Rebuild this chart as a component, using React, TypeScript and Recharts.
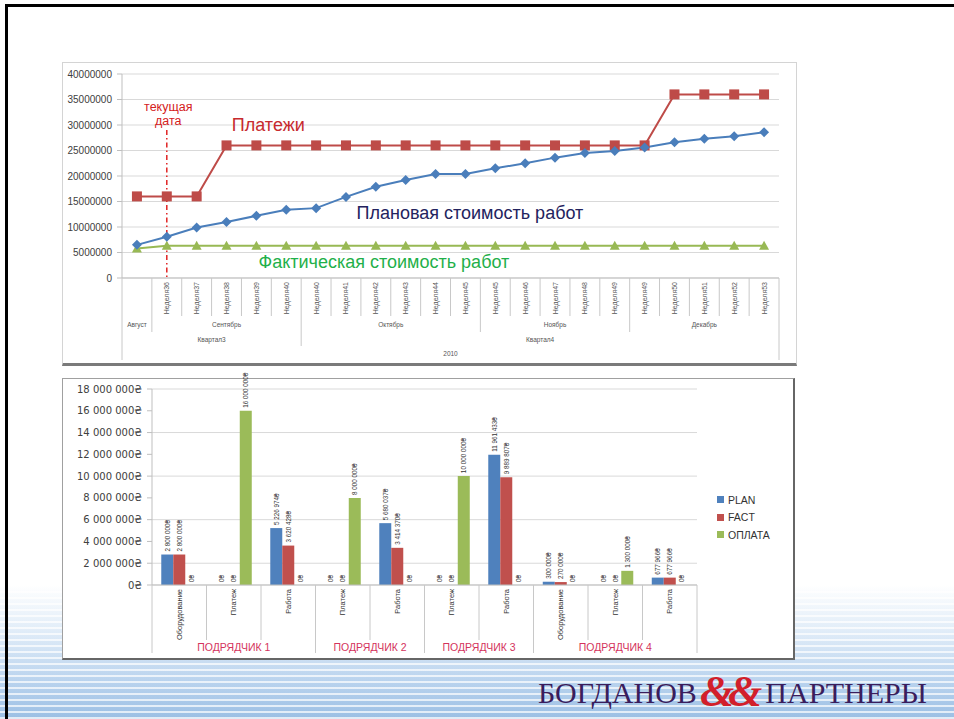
import React from 'react';
import {
  LineChart, Line, BarChart, Bar, XAxis, YAxis, CartesianGrid,
  ReferenceLine, ReferenceDot, Legend, LabelList,
} from 'recharts';

// ---------- top chart: payments vs planned / actual cost by week ----------
const weekLabels = [
  '', 'Неделя36', 'Неделя37', 'Неделя38', 'Неделя39', 'Неделя40',
  'Неделя40', 'Неделя41', 'Неделя42', 'Неделя43', 'Неделя44', 'Неделя45',
  'Неделя45', 'Неделя46', 'Неделя47', 'Неделя48', 'Неделя49',
  'Неделя49', 'Неделя50', 'Неделя51', 'Неделя52', 'Неделя53',
];
const paymentsValues = [
  16000000, 16000000, 16000000, 26000000, 26000000, 26000000, 26000000, 26000000,
  26000000, 26000000, 26000000, 26000000, 26000000, 26000000, 26000000, 26000000,
  26000000, 26000000, 36000000, 36000000, 36000000, 36000000,
];
const plannedValues = [
  6500000, 8100000, 9900000, 11000000, 12200000, 13400000, 13700000, 15900000,
  17900000, 19200000, 20400000, 20400000, 21500000, 22500000, 23600000, 24500000,
  24900000, 25600000, 26600000, 27300000, 27800000, 28600000,
];
const actualValues = [
  5800000, 6300000, 6300000, 6300000, 6300000, 6300000, 6300000, 6300000,
  6300000, 6300000, 6300000, 6300000, 6300000, 6300000, 6300000, 6300000,
  6300000, 6300000, 6300000, 6300000, 6300000, 6300000,
];
const monthSpans = [
  { label: 'Август', from: 0, to: 0 },
  { label: 'Сентябрь', from: 1, to: 5 },
  { label: 'Октябрь', from: 6, to: 11 },
  { label: 'Ноябрь', from: 12, to: 16 },
  { label: 'Декабрь', from: 17, to: 21 },
];
const quarterSpans = [
  { label: 'Квартал3', from: 0, to: 5 },
  { label: 'Квартал4', from: 6, to: 21 },
];
const yearSpans = [{ label: '2010', from: 0, to: 21 }];
const topTicks = [0, 5000000, 10000000, 15000000, 20000000, 25000000, 30000000, 35000000, 40000000];

// ---------- bottom chart: plan / fact / payment by contractor ----------
const categories = [
  'Оборудование', 'Платеж', 'Работа', 'Платеж', 'Работа',
  'Платеж', 'Работа', 'Оборудование', 'Платеж', 'Работа',
];
const planValues = [2800000, 0, 5226974, 0, 5680037, 0, 11961433, 300000, 0, 677966];
const factValues = [2800000, 0, 3620428, 0, 3414370, 0, 9889807, 270000, 0, 677966];
const paidValues = [0, 16000000, 0, 8000000, 0, 10000000, 0, 0, 1300000, 0];
const contractorSpans = [
  { label: 'ПОДРЯДЧИК 1', from: 0, to: 2 },
  { label: 'ПОДРЯДЧИК 2', from: 3, to: 4 },
  { label: 'ПОДРЯДЧИК 3', from: 5, to: 6 },
  { label: 'ПОДРЯДЧИК 4', from: 7, to: 9 },
];
const seriesNames = ['PLAN', 'FACT', 'ОПЛАТА'];
const bottomTicks = [0, 2000000, 4000000, 6000000, 8000000, 10000000, 12000000, 14000000, 16000000, 18000000];

const topData = weekLabels.map((w, i) => ({
  i, week: w, payments: paymentsValues[i], planned: plannedValues[i], actual: actualValues[i],
}));
const bottomData = categories.map((c, i) => ({
  i, name: c, plan: planValues[i], fact: factValues[i], paid: paidValues[i],
}));

const money = (v: number) => String(v).replace(/\B(?=(\d{3})+(?!\d))/g, ' ') + '₴';

type Span = { label: string; from: number; to: number };

// ticks for a multi-level axis row: span centers carry labels, span edges draw separators
function rowTicks(spans: Span[]) {
  const labels = new Map<number, string>();
  const edges = new Set<number>();
  spans.forEach((s) => {
    labels.set((s.from + s.to) / 2, s.label);
    edges.add(s.from - 0.5);
    edges.add(s.to + 0.5);
  });
  const ticks = [...edges, ...labels.keys()].sort((a, b) => a - b);
  return { labels, ticks };
}

const makeRowTick = (labels: Map<number, string>, h: number, rotated: boolean, fontSize: number, color: string, weight = 'normal') =>
  (props: any) => {
    const { x, y, payload } = props;
    const label = labels.get(payload.value);
    if (label === undefined) {
      return <line x1={x} x2={x} y1={y} y2={y + h} stroke="#c8c8c8" strokeWidth={1} />;
    }
    if (rotated) {
      return (
        <text x={x} y={y + 4} transform={`rotate(-90 ${x} ${y + 4})`} textAnchor="end"
          dominantBaseline="central" fontSize={fontSize} fill={color}>{label}</text>
      );
    }
    return (
      <text x={x} y={y + h / 2} textAnchor="middle" dominantBaseline="central"
        fontSize={fontSize} fill={color} fontWeight={weight}>{label}</text>
    );
  };

const weekRow = rowTicks(weekLabels.map((w, i) => ({ label: w, from: i, to: i })));
const monthRow = rowTicks(monthSpans);
const quarterRow = rowTicks(quarterSpans);
const yearRow = rowTicks(yearSpans);
const catRow = rowTicks(categories.map((c, i) => ({ label: c, from: i, to: i })));
const groupRow = rowTicks(contractorSpans);

const Diamond = (p: any) => {
  const { cx, cy } = p;
  if (cx == null || cy == null) return <g key={p.index} />;
  return <polygon key={p.index} points={`${cx},${cy - 5} ${cx + 5},${cy} ${cx},${cy + 5} ${cx - 5},${cy}`} fill="#4a7ebb" />;
};
const Square = (p: any) => {
  const { cx, cy } = p;
  if (cx == null || cy == null) return <g key={p.index} />;
  return <rect key={p.index} x={cx - 5} y={cy - 5} width={10} height={10} fill="#be4b48" />;
};
const Triangle = (p: any) => {
  const { cx, cy } = p;
  if (cx == null || cy == null) return <g key={p.index} />;
  return <polygon key={p.index} points={`${cx},${cy - 5} ${cx + 5},${cy + 4} ${cx - 5},${cy + 4}`} fill="#98b954" />;
};

const BarValueLabel = (p: any) => {
  const { x, y, width, height, value } = p;
  const cx = x + width / 2;
  const cy = Math.min(y, y + height) - 3;
  return (
    <text x={cx} y={cy} transform={`rotate(-90 ${cx} ${cy})`} textAnchor="start"
      dominantBaseline="central" fontSize={6.3} fill="#333">{money(Number(value) || 0)}</text>
  );
};

const renderLegend = (props: any) => {
  const items = [...(props.payload || [])].sort(
    (a: any, b: any) => seriesNames.indexOf(a.value) - seriesNames.indexOf(b.value));
  return (
    <div style={{ fontFamily: '"Liberation Sans", Arial, sans-serif', fontSize: 10.5, color: '#333' }}>
      {items.map((e: any) => (
        <div key={e.value} style={{ height: 17.5, display: 'flex', alignItems: 'center' }}>
          <span style={{ width: 7, height: 7, background: e.color, marginRight: 4, display: 'inline-block' }} />
          {e.value}
        </div>
      ))}
    </div>
  );
};

const grid = '#d9d9d9';
const axisGray = '#bfbfbf';

export default function App() {
  return (
    <div style={{ position: 'absolute', left: 0, top: 0, width: 954, height: 719, background: '#fff', overflow: 'hidden', fontFamily: '"Liberation Sans", Arial, sans-serif' }}>
      <style>{'.recharts-surface{overflow:visible}'}</style>
      {/* slide decoration */}
      <div style={{
        position: 'absolute', left: 0, top: 585, width: 954, height: 134,
        background: 'repeating-linear-gradient(to bottom, rgba(255,255,255,0.7) 0px, rgba(255,255,255,0.7) 2px, rgba(255,255,255,0) 2px, rgba(255,255,255,0) 6px), linear-gradient(to bottom, #ffffff 0%, #e0ecf8 35%, #b6d1ed 75%, #9cbfe4 100%)',
      }} />
      <div style={{ position: 'absolute', left: 5, top: 4, right: -10, bottom: -10, borderTop: '3px solid #000', borderLeft: '3px solid #000' }} />

      {/* top panel */}
      <div style={{ position: 'absolute', left: 62, top: 62, width: 733, height: 300, background: '#fff', border: '1px solid #d4d4d4', borderBottom: '3px solid #7a7a7a' }} />
      <div style={{ position: 'absolute', left: 62, top: 62 }}>
        <LineChart width={735} height={303} data={topData} margin={{ top: 12, right: 18, bottom: 5, left: 0 }}>
          <CartesianGrid vertical={false} stroke={grid} xAxisId="a_w" />
          <YAxis domain={[0, 40000000]} ticks={topTicks} width={60} tickSize={5} tickMargin={5}
            stroke={axisGray} tick={{ fontSize: 10, fill: '#404040' }} />
          <XAxis xAxisId="a_w" type="number" dataKey="i" domain={[-0.5, 21.5]} allowDataOverflow
            ticks={weekRow.ticks} interval={0} height={38} tickLine={false} tickSize={0} tickMargin={0}
            stroke={axisGray} tick={makeRowTick(weekRow.labels, 38, true, 7, '#555')} />
          <XAxis xAxisId="b_m" type="number" dataKey="i" domain={[-0.5, 21.5]} allowDataOverflow
            ticks={monthRow.ticks} interval={0} height={16} axisLine={false} tickLine={false} tickSize={0} tickMargin={0}
            tick={makeRowTick(monthRow.labels, 16, false, 6.5, '#555')} />
          <XAxis xAxisId="c_q" type="number" dataKey="i" domain={[-0.5, 21.5]} allowDataOverflow
            ticks={quarterRow.ticks} interval={0} height={14} axisLine={false} tickLine={false} tickSize={0} tickMargin={0}
            tick={makeRowTick(quarterRow.labels, 14, false, 6.5, '#555')} />
          <XAxis xAxisId="d_y" type="number" dataKey="i" domain={[-0.5, 21.5]} allowDataOverflow
            ticks={yearRow.ticks} interval={0} height={14} axisLine={false} tickLine={false} tickSize={0} tickMargin={0}
            tick={makeRowTick(yearRow.labels, 14, false, 6.5, '#555')} />
          <Line xAxisId="a_w" dataKey="payments" stroke="#be4b48" strokeWidth={2} dot={Square} activeDot={false} isAnimationActive={false} />
          <Line xAxisId="a_w" dataKey="actual" stroke="#98b954" strokeWidth={2} dot={Triangle} activeDot={false} isAnimationActive={false} />
          <Line xAxisId="a_w" dataKey="planned" stroke="#4a7ebb" strokeWidth={2} dot={Diamond} activeDot={false} isAnimationActive={false} />
          <ReferenceLine xAxisId="a_w" segment={[{ x: 1, y: 29000000 }, { x: 1, y: 0 }]}
            stroke="#e02424" strokeWidth={1.5} strokeDasharray="5 3 1.5 3" />
          <ReferenceDot xAxisId="a_w" x={1.05} y={33700000} r={0} fillOpacity={0} stroke="none"
            label={{ value: 'текущая', position: 'center', fill: '#d42020', fontSize: 12.5 }} />
          <ReferenceDot xAxisId="a_w" x={1.05} y={30800000} r={0} fillOpacity={0} stroke="none"
            label={{ value: 'дата', position: 'center', fill: '#d42020', fontSize: 12.5 }} />
          <ReferenceDot xAxisId="a_w" x={4.4} y={30000000} r={0} fillOpacity={0} stroke="none"
            label={{ value: 'Платежи', position: 'center', fill: '#c72a2e', fontSize: 18 }} />
          <ReferenceDot xAxisId="a_w" x={11.15} y={12800000} r={0} fillOpacity={0} stroke="none"
            label={{ value: 'Плановая стоимость работ', position: 'center', fill: '#23235e', fontSize: 18 }} />
          <ReferenceDot xAxisId="a_w" x={8.27} y={3300000} r={0} fillOpacity={0} stroke="none"
            label={{ value: 'Фактическая стоимость работ', position: 'center', fill: '#1fb04a', fontSize: 18 }} />
        </LineChart>
      </div>

      {/* bottom panel */}
      <div style={{ position: 'absolute', left: 62, top: 378, width: 730, height: 279, background: '#fff', border: '1px solid #a0a0a0', borderRight: '2px solid #666', borderBottom: '2px solid #666' }} />
      <div style={{ position: 'absolute', left: 62, top: 378 }}>
        <BarChart width={733} height={282} data={bottomData} margin={{ top: 11, right: 98, bottom: 7, left: 0 }}
          barCategoryGap="17%" barGap={0}>
          <CartesianGrid vertical={false} stroke={grid} xAxisId="a_cat" />
          <YAxis domain={[0, 18000000]} ticks={bottomTicks} width={90} tickSize={5} tickMargin={5}
            stroke={axisGray} tickFormatter={money}
            tick={{ fontSize: 10, fill: '#404040', fontFamily: '"DejaVu Sans", sans-serif' }} />
          <XAxis xAxisId="a_cat" dataKey="name" hide height={0} />
          <XAxis xAxisId="b_c" type="number" dataKey="i" domain={[-0.5, 9.5]} allowDataOverflow
            ticks={catRow.ticks} interval={0} height={55} tickLine={false} tickSize={0} tickMargin={0}
            stroke={axisGray} tick={makeRowTick(catRow.labels, 55, true, 7.5, '#333')} />
          <XAxis xAxisId="c_g" type="number" dataKey="i" domain={[-0.5, 9.5]} allowDataOverflow
            ticks={groupRow.ticks} interval={0} height={13} axisLine={false} tickLine={false} tickSize={0} tickMargin={0}
            tick={makeRowTick(groupRow.labels, 13, false, 10.5, '#d4335c')} />
          <Bar xAxisId="a_cat" dataKey="plan" name="PLAN" fill="#4f81bd" minPointSize={0.01} isAnimationActive={false}>
            <LabelList dataKey="plan" content={BarValueLabel} />
          </Bar>
          <Bar xAxisId="a_cat" dataKey="fact" name="FACT" fill="#c0504d" minPointSize={0.01} isAnimationActive={false}>
            <LabelList dataKey="fact" content={BarValueLabel} />
          </Bar>
          <Bar xAxisId="a_cat" dataKey="paid" name="ОПЛАТА" fill="#9bbb59" minPointSize={0.01} isAnimationActive={false}>
            <LabelList dataKey="paid" content={BarValueLabel} />
          </Bar>
          <Legend layout="vertical" align="center" verticalAlign="middle" content={renderLegend}
            wrapperStyle={{ left: 655, top: 113, width: 80 }} />
        </BarChart>
      </div>

      {/* logo */}
      <div style={{ position: 'absolute', left: 538, top: 672, whiteSpace: 'nowrap', fontFamily: '"Liberation Serif", "DejaVu Serif", serif', color: '#3a1d5c', fontSize: 30, lineHeight: '40px' }}>
        <span>БОГДАНОВ</span>
        <span style={{ color: '#d21f2b', fontSize: 44, fontWeight: 'bold', fontStyle: 'italic', margin: '0 3px', letterSpacing: -6, verticalAlign: -3 }}>&amp;&amp;</span>
        <span style={{ marginLeft: 6 }}>ПАРТНЕРЫ</span>
      </div>
    </div>
  );
}
